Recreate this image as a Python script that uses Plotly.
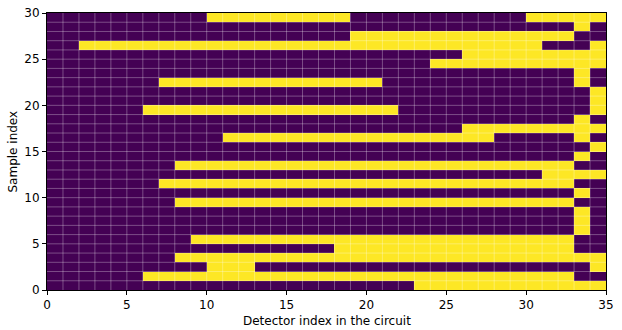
import plotly.graph_objects as go

n_rows = 30
n_cols = 35

# yellow (value 1) intervals [start, end) per sample row, row 0 = bottom
row_intervals = [
    [(23, 35)],                 # 0
    [(6, 33)],                  # 1
    [(10, 13), (34, 35)],       # 2
    [(8, 35)],                  # 3
    [(18, 33)],                 # 4
    [(9, 33)],                  # 5
    [(33, 34)],                 # 6
    [(33, 34)],                 # 7
    [(33, 34)],                 # 8
    [(8, 33)],                  # 9
    [(33, 34)],                 # 10
    [(7, 33)],                  # 11
    [(31, 35)],                 # 12
    [(8, 33)],                  # 13
    [(33, 34)],                 # 14
    [(34, 35)],                 # 15
    [(11, 28), (33, 34)],       # 16
    [(26, 35)],                 # 17
    [(33, 34)],                 # 18
    [(6, 22), (34, 35)],        # 19
    [(34, 35)],                 # 20
    [(34, 35)],                 # 21
    [(7, 21), (33, 34)],        # 22
    [(33, 34)],                 # 23
    [(24, 35)],                 # 24
    [(26, 35)],                 # 25
    [(2, 31), (34, 35)],        # 26
    [(19, 33)],                 # 27
    [(33, 34)],                 # 28
    [(10, 19), (30, 35)],       # 29
]

x_ticks = [0, 5, 10, 15, 20, 25, 30, 35]
y_ticks = [0, 5, 10, 15, 20, 25, 30]
x_title = "Detector index in the circuit"
y_title = "Sample index"

z = []
for intervals in row_intervals:
    row = [0] * n_cols
    for a, b in intervals:
        for c in range(a, b):
            row[c] = 1
    z.append(row)

x_edges = list(range(n_cols + 1))
y_edges = list(range(n_rows + 1))

fig = go.Figure(go.Heatmap(
    z=z, x=x_edges, y=y_edges,
    colorscale=[[0, "#440154"], [1, "#fde725"]],
    zmin=0, zmax=1, showscale=False,
))

shapes = []
for xv in range(1, n_cols):
    shapes.append(dict(type="line", xref="x", yref="y", x0=xv, x1=xv, y0=0, y1=n_rows,
                       line=dict(color="rgba(255,255,255,0.3)", width=1), layer="above"))
for yv in range(1, n_rows):
    shapes.append(dict(type="line", xref="x", yref="y", x0=0, x1=n_cols, y0=yv, y1=yv,
                       line=dict(color="rgba(255,255,255,0.3)", width=1), layer="above"))

font = dict(family="DejaVu Sans", size=12, color="black")

axis_common = dict(
    showline=True, linecolor="black", linewidth=1, mirror=True,
    ticks="outside", ticklen=4, tickwidth=1, tickcolor="black",
    showgrid=False, zeroline=False, automargin=False,
    tickfont=font,
)

fig.update_layout(
    width=622, height=330,
    margin=dict(l=47, r=16, t=13, b=40),
    paper_bgcolor="white", plot_bgcolor="white",
    shapes=shapes,
    xaxis=dict(range=[0, n_cols], tickvals=x_ticks, **axis_common),
    yaxis=dict(range=[0, n_rows], tickvals=y_ticks, **axis_common),
    annotations=[
        dict(text=x_title, xref="paper", yref="paper", x=0.5, y=0,
             xanchor="center", yanchor="middle", yshift=-31, showarrow=False, font=font),
        dict(text=y_title, xref="paper", yref="paper", x=0, y=0.5, textangle=-90,
             xanchor="center", yanchor="middle", xshift=-35, showarrow=False, font=font),
    ],
)

fig.write_html("out.html")
